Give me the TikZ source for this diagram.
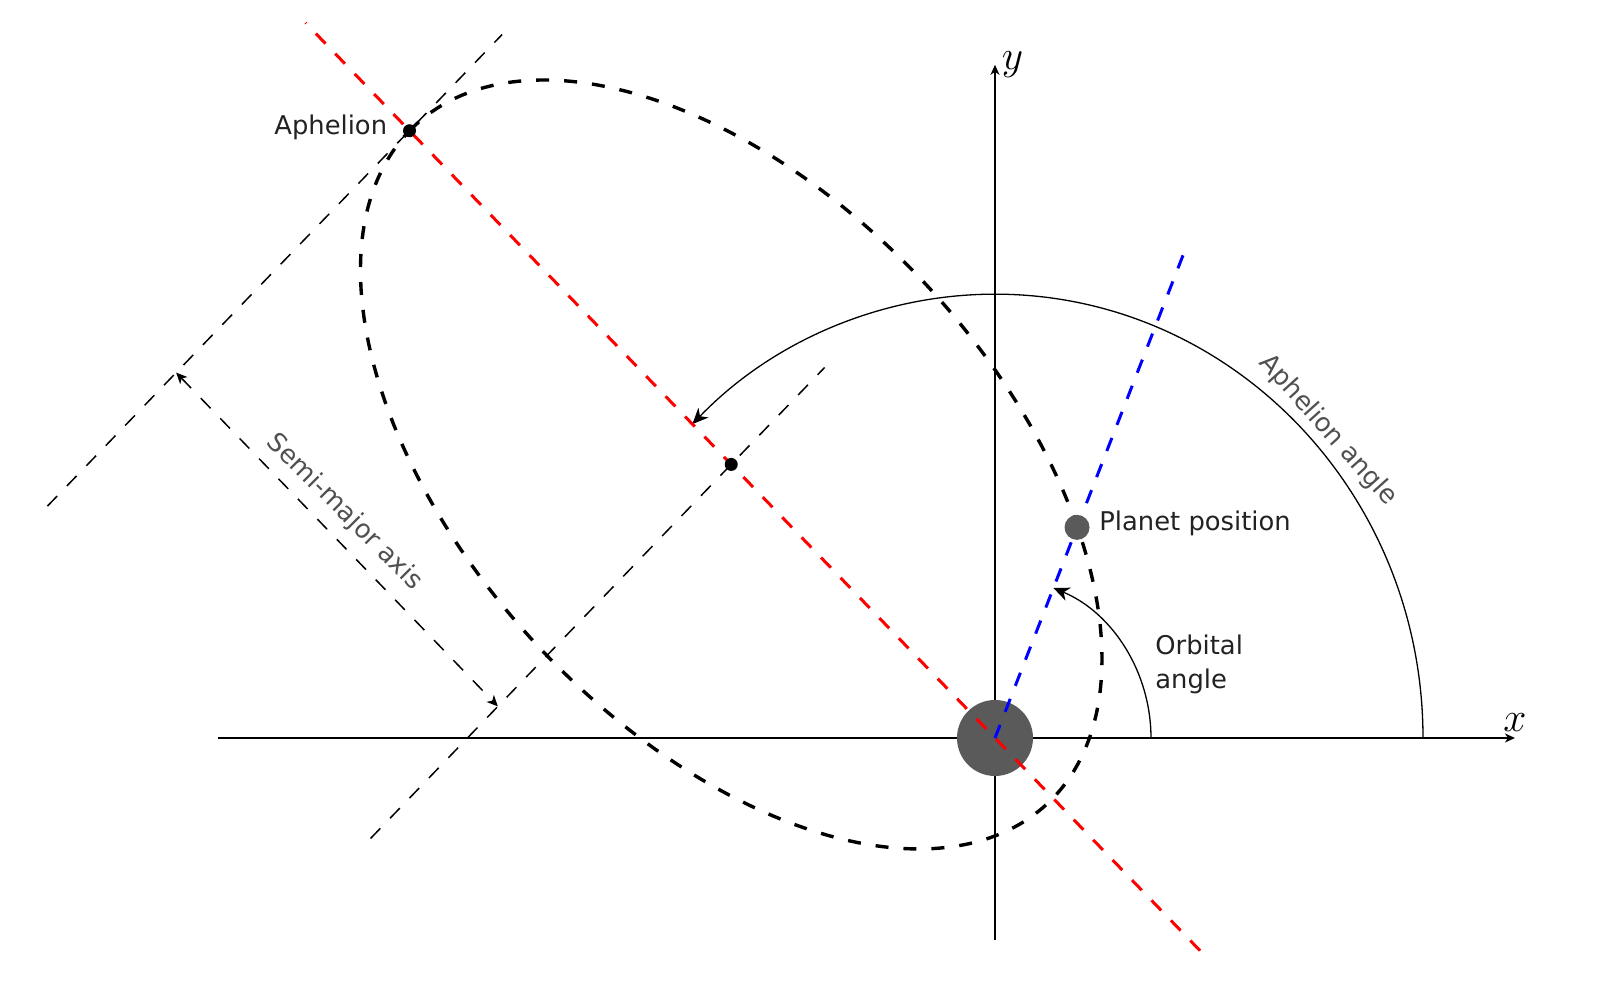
\documentclass[tikz,border=0pt]{standalone}
\usepackage{fontspec}
\setmainfont{DejaVu Sans}
\usetikzlibrary{arrows.meta,calc}
\definecolor{bodygray}{HTML}{5A5A5A}
\definecolor{txt}{HTML}{222222}
\definecolor{txtlight}{HTML}{505050}
\begin{document}
\begin{tikzpicture}[x=0.5pt,y=0.5pt,
  axis/.style={line width=0.75pt,-{Stealth[length=5pt,width=4.5pt,inset=1.5pt]}},
  thindash/.style={line width=0.75pt,dash pattern=on 7pt off 7pt},
  orbit/.style={line width=1.7pt,dash pattern=on 6.5pt off 7.5pt},
  apsis/.style={line width=1.5pt,red,dash pattern=on 7pt off 7pt},
  radial/.style={line width=1.5pt,blue,dash pattern=on 7pt off 7pt},
  anglearc/.style={line width=0.65pt,-{Stealth[length=8pt,width=7pt,inset=2.5pt]}},
  dimarrow/.style={thindash,{Stealth[length=5.5pt,width=5pt,inset=1.5pt]}-{Stealth[length=5.5pt,width=5pt,inset=1.5pt]}},
  lbl/.style={text=txt,font=\fontsize{12.9}{17}\selectfont,inner sep=0pt},
  rlbl/.style={text=txtlight,font=\fontsize{12.9}{17}\selectfont},
  mathlbl/.style={font=\fontsize{22}{24}\selectfont,inner sep=2pt},
  dot/.style={circle,fill=black,inner sep=0pt,minimum size=6.5pt}]
\useasboundingbox (-995,-262) rectangle (605,738);
\begin{scope}[yscale=1.037]
  % key points
  \coordinate (O) at (0,0);
  \coordinate (C) at (135:373);
  \coordinate (A) at (135:828);
  \coordinate (P) at (68:219);
  % perpendicular dashed lines
  \coordinate (CL1) at ($(C)+(45:-510)$);
  \coordinate (CL2) at ($(C)+(45:132)$);
  \coordinate (AL1) at ($(A)+(45:-512)$);
  \coordinate (AL2) at ($(A)+(45:131)$);
  \draw[thindash] (CL1) -- (CL2);
  \draw[thindash] (AL1) -- (AL2);
  % semi-major axis dimension
  \coordinate (S1) at ($(A)+(45:-330)$);
  \coordinate (S2) at ($(C)+(45:-330)$);
  \draw[dimarrow] (S1) -- node[rlbl,pos=0.47,sloped,above,inner sep=5.5pt] (smlbl) {Semi-major axis} (S2);
  % axes
  \coordinate (XL) at (-777,0);
  \coordinate (XR) at (520,0);
  \coordinate (YB) at (0,-195);
  \coordinate (YT) at (0,649);
  \draw[axis] (XL) -- (XR) node[mathlbl,above,yshift=1pt] (xlbl) {$x$};
  \draw[axis] (YB) -- (YT) node[mathlbl,right,xshift=1pt,yshift=0pt] (ylbl) {$y$};
  % orbit ellipse
  \draw[orbit] plot[domain=0:360,samples=241,smooth]
    ({-263.76-321.73*cos(\x)+184.27*sin(\x)},{263.76+321.73*cos(\x)+184.27*sin(\x)});
  % angle arcs
  \coordinate (R1) at (428,0);
  \draw[anglearc] (R1) arc[start angle=0,end angle=135,radius=428];
  \coordinate (R2) at (156,0);
  \draw[anglearc] (R2) arc[start angle=0,end angle=68,radius=156];
  % sun
  \node[circle,fill=bodygray,minimum size=38pt,inner sep=0pt] (sun) at (O) {};
  % apsis line and radial line
  \coordinate (RL1) at (-45:290);
  \coordinate (RL2) at (135:975);
  \draw[apsis] (RL1) -- (RL2);
  \coordinate (BL) at (68:507);
  \draw[radial] (O) -- (BL);
  % points
  \node[dot] (aph) at (A) {};
  \node[dot] (ctr) at (C) {};
  \node[circle,fill=bodygray,minimum size=12.5pt,inner sep=0pt] (planet) at (P) {};
  % labels
  \node[lbl,anchor=east,xshift=-11pt,yshift=1.5pt] (aphlbl) at (A) {Aphelion};
  \node[lbl,anchor=west,xshift=11pt,yshift=2pt] (plbl) at (P) {Planet position};
  \node[lbl,anchor=west,align=left] (olbl) at (160,71) {Orbital\\angle};
  \node[rlbl,rotate=-48,inner sep=0pt] (alabel) at (41.7:446) {Aphelion angle};
\end{scope}
\end{tikzpicture}
\end{document}
